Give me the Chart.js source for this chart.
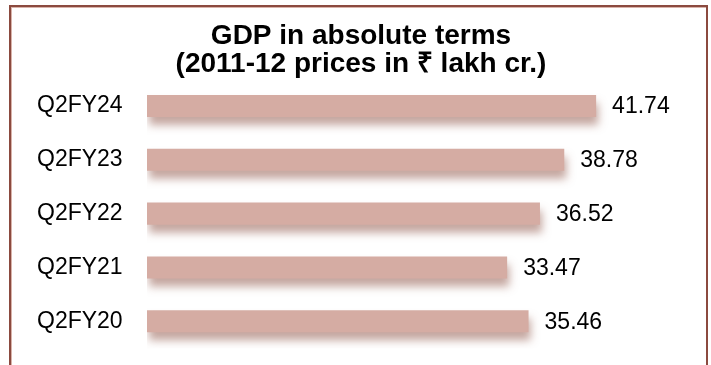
<!DOCTYPE html>
<html>
<head>
<meta charset="utf-8">
<script src="https://cdn.jsdelivr.net/npm/chart.js@4"></script>
<style>
    html, body { margin: 0; padding: 0; background: #fff; overflow: hidden; }
    #wrap { position: relative; width: 711px; height: 365px; }
    #frame {
        position: absolute; left: 9px; top: 5px; width: 695px; height: 420px;
        border: 2px solid #8b4a3f; box-shadow: inset 1px 1px 0 #d9b3aa;
        pointer-events: none;
    }
</style>
</head>
<body>
<div id="wrap">
    <canvas id="gdpChart" width="711" height="365"></canvas>
    <div id="frame"></div>
</div>
<script>
const quarters = ['Q2FY24', 'Q2FY23', 'Q2FY22', 'Q2FY21', 'Q2FY20'];
const gdpValues = [41.74, 38.78, 36.52, 33.47, 35.46];
const titleLines = ['GDP in absolute terms', '(2011-12 prices in ₹ lakh cr.)'];

// soft shadow under the bars
const barShadow = {
    id: 'barShadow',
    beforeDatasetDraw(chart) {
        const ctx = chart.ctx;
        ctx.save();
        ctx.shadowColor = 'rgba(140, 80, 65, 0.5)';
        ctx.shadowBlur = 8;
        ctx.shadowOffsetX = 2;
        ctx.shadowOffsetY = 8;
    },
    afterDatasetDraw(chart) {
        chart.ctx.restore();
    }
};

// value labels at the end of each bar
const valueLabels = {
    id: 'valueLabels',
    afterDatasetsDraw(chart) {
        const ctx = chart.ctx;
        const meta = chart.getDatasetMeta(0);
        ctx.save();
        ctx.font = '23px "Liberation Sans", Arial, sans-serif';
        ctx.fillStyle = '#000';
        ctx.textAlign = 'left';
        ctx.textBaseline = 'middle';
        meta.data.forEach((bar, i) => {
            ctx.fillText(gdpValues[i].toFixed(2), bar.x + 16, bar.y + 1);
        });
        ctx.restore();
    }
};

new Chart(document.getElementById('gdpChart').getContext('2d'), {
    type: 'bar',
    data: {
        labels: quarters,
        datasets: [{
            data: gdpValues,
            backgroundColor: '#d5aca3',
            borderWidth: 0,
            categoryPercentage: 1,
            barPercentage: 0.41
        }]
    },
    options: {
        indexAxis: 'y',
        responsive: false,
        animation: false,
        layout: { padding: { left: 37, right: 26, top: 6, bottom: 16 } },
        plugins: {
            legend: { display: false },
            tooltip: { enabled: false },
            title: {
                display: true,
                text: titleLines,
                color: '#000',
                font: { family: '"Liberation Sans", Arial, sans-serif', size: 28, weight: 'bold', lineHeight: 1.0 },
                padding: { top: 16, bottom: 1 }
            }
        },
        scales: {
            x: { display: false, min: 0, max: 50 },
            y: {
                grid: { display: false },
                border: { display: false },
                afterFit(scale) { scale.width = 110; },
                ticks: {
                    crossAlign: 'far',
                    color: '#000',
                    font: { family: '"Liberation Sans", Arial, sans-serif', size: 23 }
                }
            }
        }
    },
    plugins: [barShadow, valueLabels]
});
</script>
</body>
</html>
